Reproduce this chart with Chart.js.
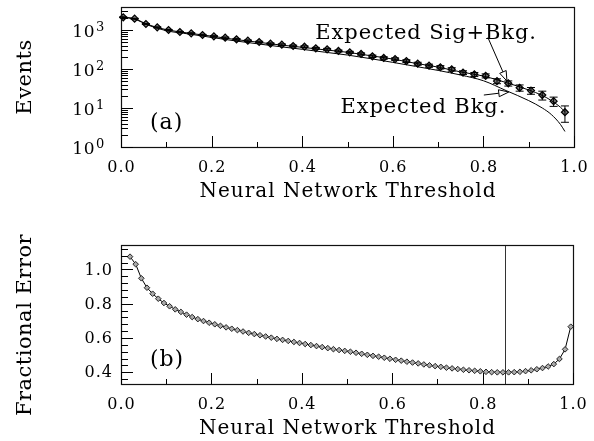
<!DOCTYPE html>
<html><head><meta charset="utf-8">
<script src="https://cdn.jsdelivr.net/npm/chart.js@4.4.0/dist/chart.umd.min.js"></script>
<style>
html,body{margin:0;padding:0;background:#fff;}
#wrap{position:relative;width:594px;height:441px;overflow:hidden;background:#fff;}
canvas{position:absolute;left:0;}
</style></head><body>
<div id="wrap">
<canvas id="ca" width="594" height="220" style="top:0px"></canvas>
<canvas id="cb" width="594" height="221" style="top:220px"></canvas>
</div>
<script>
// ---------------- data: panel (a) ----------------
const thrA = [0.005,0.03,0.055,0.08,0.105,0.13,0.155,0.18,0.205,0.23,0.255,0.28,0.305,0.33,0.355,0.38,0.405,0.43,0.455,0.48,0.505,0.53,0.555,0.58,0.605,0.63,0.655,0.68,0.705,0.73,0.755,0.78,0.805,0.83,0.855,0.88,0.905,0.93,0.955,0.98];
const eventsA = [2120,1950,1425,1170,1000,889,823,745,689,635,578,532,492,446,420,389,373,340,320,290,268,243,212,192,180,160,137,122,111,98,81,73,67,49,43,33,28,21.5,15,7.8];
const errorsA = [46,44,38,34,32,30,29,27,26,25,24,23,22,21,21,20,19,18,18,17,16,16,15,14,13,13,12,11,11,10,9,8.5,8,7,6.5,6,5.5,5.5,4,3.5];
const curveX = [0,0.03,0.06,0.1,0.15,0.2,0.25,0.3,0.35,0.4,0.45,0.5,0.55,0.6,0.65,0.7,0.75,0.8,0.85,0.9,0.93,0.95,0.97,0.98];
const expSigBkg = [2150,1940,1370,1020,830,695,575,490,415,360,310,268,220,180,140,112,84,66,45,29,21,15.5,10.5,8];
const expBkg = [2150,1900,1330,960,790,645,530,445,375,320,270,228,185,148,117,92,70,50,28,15.5,10,6.8,3.8,2.5];

// ---------------- data: panel (b) ----------------
const thrB = [0.02,0.0325,0.045,0.0575,0.07,0.0825,0.095,0.1075,0.12,0.1325,0.145,0.1575,0.17,0.1825,0.195,0.2075,0.22,0.2325,0.245,0.2575,0.27,0.2825,0.295,0.3075,0.32,0.3325,0.345,0.3575,0.37,0.3825,0.395,0.4075,0.42,0.4325,0.445,0.4575,0.47,0.4825,0.495,0.5075,0.52,0.5325,0.545,0.5575,0.57,0.5825,0.595,0.6075,0.62,0.6325,0.645,0.6575,0.67,0.6825,0.695,0.7075,0.72,0.7325,0.745,0.7575,0.77,0.7825,0.795,0.8075,0.82,0.8325,0.845,0.8575,0.87,0.8825,0.895,0.9075,0.92,0.9325,0.945,0.9575,0.97,0.9825,0.995];
const fracErr = [1.074,1.030,0.948,0.893,0.858,0.829,0.804,0.785,0.767,0.752,0.736,0.722,0.710,0.699,0.689,0.680,
0.671,0.662,0.654,0.646,0.638,0.630,0.623,0.616,0.609,0.602,0.595,0.589,0.583,0.577,0.571,0.565,0.559,0.553,0.547,0.541,0.535,0.530,0.525,
0.520,0.514,0.508,0.502,0.496,0.491,0.485,0.479,0.473,0.468,0.462,0.457,0.452,0.446,0.441,0.436,0.432,0.427,0.423,0.419,0.415,0.412,0.409,0.406,0.403,0.401,0.400,0.400,0.400,0.401,0.403,0.407,0.412,0.418,0.425,0.434,0.448,0.478,0.534,0.666];
const cutValue = [0.85];

// ---------------- ticks & labels ----------------
const xMajor = [0,0.2,0.4,0.6,0.8,1.0];
const xLabels = ['0.0','0.2','0.4','0.6','0.8','1.0'];
const xMinor = [0.1,0.3,0.5,0.7,0.9];
const yMajorA = [1,10,100,1000];
const yExpA = ['0','1','2','3'];
const yMinorA = [2,3,4,5,6,7,8,9,20,30,40,50,60,70,80,90,200,300,400,500,600,700,800,900,2000,3000];
const yMajorB = [0.4,0.6,0.8,1.0];
const yLabelsB = ['0.4','0.6','0.8','1.0'];
const yMinorB = [0.36,0.44,0.48,0.52,0.56,0.64,0.68,0.72,0.76,0.84,0.88,0.92,0.96,1.04,1.08,1.12];

const xTitle = 'Neural Network Threshold';
const yTitleA = 'Events';
const yTitleB = 'Fractional Error';
const labelSig = 'Expected Sig+Bkg.';
const labelBkg = 'Expected Bkg.';
const tagA = '(a)';
const tagB = '(b)';

// annotation anchors (data coordinates)
const ANN = {
  sigText:{x:0.429,y:588}, bkgText:{x:0.4845,y:7.45}, tagA:{x:0.064,y:2.89}, tagB:{x:0.064,y:0.437},
  sigArrow:{x1:0.81,y1:640,x2:0.852,y2:49}, bkgArrow:{x1:0.801,y1:21.5,x2:0.856,y2:25.7}
};

const FONT = '"DejaVu Serif", "Liberation Serif", serif';
function setFont(ctx,size,sp){ ctx.font = size+'px '+FONT; try{ ctx.letterSpacing = (sp||0)+'px'; }catch(e){} }
function text(ctx,s,x,y,size,align,base,sp){
  ctx.save(); setFont(ctx,size,sp); ctx.fillStyle='#000'; ctx.textAlign=align||'left'; ctx.textBaseline=base||'alphabetic';
  ctx.fillText(s,x,y); ctx.restore();
}
function vtext(ctx,s,x,y,size,sp){
  ctx.save(); ctx.translate(x,y); ctx.rotate(-Math.PI/2); setFont(ctx,size,sp); ctx.fillStyle='#000';
  ctx.textAlign='center'; ctx.textBaseline='alphabetic'; ctx.fillText(s,0,0); ctx.restore();
}
function line(ctx,x1,y1,x2,y2,w,c){ ctx.save(); ctx.strokeStyle=c||'#000'; ctx.lineWidth=w||1; ctx.beginPath(); ctx.moveTo(x1,y1); ctx.lineTo(x2,y2); ctx.stroke(); ctx.restore(); }
function arrow(ctx,x1,y1,x2,y2){
  const dx=x2-x1, dy=y2-y1, L=Math.hypot(dx,dy), ux=dx/L, uy=dy/L, hl=10, hw=3.5;
  const bx=x2-ux*hl, by=y2-uy*hl;
  line(ctx,x1,y1,bx,by,1,'#000');
  ctx.save(); ctx.beginPath(); ctx.moveTo(x2,y2); ctx.lineTo(bx-uy*hw,by+ux*hw); ctx.lineTo(bx+uy*hw,by-ux*hw); ctx.closePath();
  ctx.fillStyle='#fff'; ctx.fill(); ctx.strokeStyle='#000'; ctx.lineWidth=1; ctx.stroke(); ctx.restore();
}
function frameAndTicks(chart, yMaj, yMin){
  const {ctx, chartArea:a, scales:{x,y}} = chart;
  ctx.save();
  ctx.strokeStyle='#111'; ctx.lineWidth=1.2;
  ctx.strokeRect(Math.round(a.left)+0.5, Math.round(a.top)+0.5, Math.round(a.right-a.left), Math.round(a.bottom-a.top));
  ctx.restore();
  xMajor.forEach(v=>{ const p=Math.round(x.getPixelForValue(v))+0.5; line(ctx,p,a.bottom,p,a.bottom-11,1); });
  xMinor.forEach(v=>{ const p=Math.round(x.getPixelForValue(v))+0.5; line(ctx,p,a.bottom,p,a.bottom-5,1); });
  yMaj.forEach(v=>{ const p=Math.round(y.getPixelForValue(v))+0.5; line(ctx,a.left,p,a.left+12,p,1); });
  yMin.forEach(v=>{ const p=Math.round(y.getPixelForValue(v))+0.5; if(p>a.top+1) line(ctx,a.left,p,a.left+7,p,1); });
  xMajor.forEach((v,i)=>{ text(ctx,xLabels[i],x.getPixelForValue(v)+0.5,a.bottom+25,16,'center','alphabetic',1); });
  text(ctx,xTitle,(a.left+a.right)/2+0.5,a.bottom+50,20,'center','alphabetic',1);
}

const panelA = {
  id:'panelA',
  afterDatasetsDraw(chart){
    const {ctx, scales:{x,y}} = chart;
    ctx.save(); ctx.strokeStyle='#000'; ctx.lineWidth=1;
    thrA.forEach((t,i)=>{
      const px=x.getPixelForValue(t), yt=y.getPixelForValue(eventsA[i]+errorsA[i]), yb=y.getPixelForValue(eventsA[i]-errorsA[i]);
      ctx.beginPath(); ctx.moveTo(px,yt); ctx.lineTo(px,yb);
      ctx.moveTo(px-4,yt); ctx.lineTo(px+4,yt); ctx.moveTo(px-4,yb); ctx.lineTo(px+4,yb); ctx.stroke();
    });
    ctx.restore();
  },
  afterDraw(chart){
    const {ctx, chartArea:a, scales:{x,y}} = chart;
    frameAndTicks(chart, yMajorA, yMinorA);
    yMajorA.forEach((v,i)=>{
      const p=y.getPixelForValue(v);
      text(ctx,'10',95,p+3,17,'right','middle',0.5);
      text(ctx,yExpA[i],96,p-2,13,'left','middle',0);
    });
    vtext(ctx,yTitleA,31,(a.top+a.bottom)/2,21,0.5);
    const P=(o)=>[x.getPixelForValue(o.x), y.getPixelForValue(o.y)];
    let q;
    q=P(ANN.sigText); text(ctx,labelSig,q[0],q[1],21,'left','alphabetic',0.9);
    q=P(ANN.bkgText); text(ctx,labelBkg,q[0],q[1],21,'left','alphabetic',0.9);
    q=P(ANN.tagA); text(ctx,tagA,q[0],q[1],22,'left','alphabetic',1);
    const s=ANN.sigArrow; arrow(ctx,x.getPixelForValue(s.x1),y.getPixelForValue(s.y1),x.getPixelForValue(s.x2),y.getPixelForValue(s.y2));
    const b=ANN.bkgArrow; arrow(ctx,x.getPixelForValue(b.x1),y.getPixelForValue(b.y1),x.getPixelForValue(b.x2),y.getPixelForValue(b.y2));
  }
};

const panelB = {
  id:'panelB',
  beforeDatasetsDraw(chart){
    const {ctx, chartArea:a, scales:{x}} = chart;
    cutValue.forEach(v=>{ const p=Math.round(x.getPixelForValue(v))+0.5; line(ctx,p,a.top,p,a.bottom,1,'#333'); });
  },
  afterDraw(chart){
    const {ctx, chartArea:a, scales:{x,y}} = chart;
    frameAndTicks(chart, yMajorB, yMinorB);
    yMajorB.forEach((v,i)=>{ text(ctx,yLabelsB[i],113,y.getPixelForValue(v)+1,16,'right','middle',1); });
    vtext(ctx,yTitleB,31,105,21,0.5);
    text(ctx,tagB,x.getPixelForValue(ANN.tagB.x),y.getPixelForValue(ANN.tagB.y),22,'left','alphabetic',1);
  }
};

const common = {
  responsive:false, animation:false, events:[],
  plugins:{legend:{display:false}, tooltip:{enabled:false}}
};

new Chart(document.getElementById('ca'), {
  type:'scatter',
  data:{datasets:[
    {data:curveX.map((v,i)=>({x:v,y:expSigBkg[i]})), showLine:true, borderColor:'#000', borderWidth:1, pointRadius:0, cubicInterpolationMode:'monotone', clip:false},
    {data:curveX.map((v,i)=>({x:v,y:expBkg[i]})), showLine:true, borderColor:'#000', borderWidth:1, pointRadius:0, cubicInterpolationMode:'monotone', clip:false},
    {data:thrA.map((v,i)=>({x:v,y:eventsA[i]})), showLine:false, pointStyle:'rectRot', pointRadius:3.5, backgroundColor:'#777', borderColor:'#000', borderWidth:1.2, clip:false}
  ]},
  options:Object.assign({}, common, {
    layout:{padding:{left:121, top:7, right:20, bottom:73}},
    scales:{
      x:{type:'linear', min:0, max:1, display:false},
      y:{type:'logarithmic', min:1, max:3890, display:false}
    }
  }),
  plugins:[panelA]
});

new Chart(document.getElementById('cb'), {
  type:'scatter',
  data:{datasets:[
    {data:thrB.map((v,i)=>({x:v,y:fracErr[i]})), showLine:true, borderColor:'#000', borderWidth:1, pointStyle:'rectRot', pointRadius:2.8, backgroundColor:'#aaa', pointBorderColor:'#222', pointBorderWidth:1, tension:0, clip:false}
  ]},
  options:Object.assign({}, common, {
    layout:{padding:{left:121, top:25, right:21, bottom:57}},
    scales:{
      x:{type:'linear', min:0, max:1, display:false},
      y:{type:'linear', min:0.332, max:1.142, display:false}
    }
  }),
  plugins:[panelB]
});
</script>
</body></html>
